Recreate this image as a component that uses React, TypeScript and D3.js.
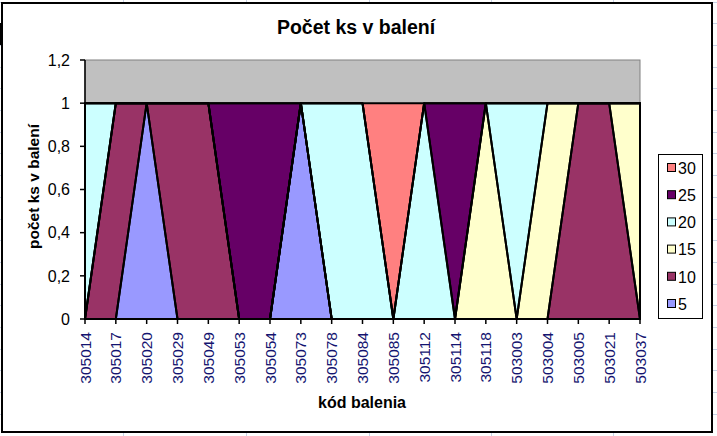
import React from 'react';
import * as d3 from 'd3';

// kód balenia (categories)
const codes = [
  '305014', '305017', '305020', '305029', '305049', '305053', '305054', '305073', '305078', '305084',
  '305085', '305112', '305114', '305118', '503003', '503004', '503005', '503021', '503037',
];

// one series per package size, 1 where the code uses that size
const s5 = [0, 0, 1, 0, 0, 0, 0, 1, 0, 0, 0, 0, 0, 0, 0, 0, 0, 0, 0];
const s10 = [0, 1, 0, 1, 1, 0, 0, 0, 0, 0, 0, 0, 0, 0, 0, 0, 1, 1, 0];
const s15 = [0, 0, 0, 0, 0, 0, 0, 0, 0, 0, 0, 0, 0, 1, 0, 1, 0, 0, 1];
const s20 = [1, 0, 0, 0, 0, 0, 0, 0, 1, 1, 0, 1, 0, 0, 1, 0, 0, 0, 0];
const s25 = [0, 0, 0, 0, 0, 1, 1, 0, 0, 0, 0, 0, 1, 0, 0, 0, 0, 0, 0];
const s30 = [0, 0, 0, 0, 0, 0, 0, 0, 0, 0, 1, 0, 0, 0, 0, 0, 0, 0, 0];

const seriesNames = ['5', '10', '15', '20', '25', '30'];
const seriesValues = [s5, s10, s15, s20, s25, s30];
const seriesColors = ['#9999FF', '#993366', '#FFFFCC', '#CCFFFF', '#660066', '#FF8080'];

const yTicks = [0, 0.2, 0.4, 0.6, 0.8, 1, 1.2];

const W = 717;
const H = 436;
const plot = { left: 85, right: 640, top: 60, bottom: 319 };
const font = '"Liberation Sans", Arial, sans-serif';

export default function App() {
  const x = d3.scalePoint<string>().domain(codes).range([plot.left, plot.right]);
  const y = d3.scaleLinear().domain([0, 1.2]).range([plot.bottom, plot.top]);

  const table = codes.map((c, i) => {
    const row: any = { code: c };
    seriesNames.forEach((s, k) => { row[s] = seriesValues[k][i]; });
    return row;
  });
  const stacked = d3.stack<any>().keys(seriesNames)(table);
  const area = d3.area<any>()
    .x(d => x(d.data.code)!)
    .y0(d => y(d[0]))
    .y1(d => y(d[1]));

  const fmt = (v: number) => String(v).replace('.', ',');

  // faint spreadsheet grid behind the chart object
  const sheetCols = [123, 246, 369, 491, 613];
  const sheetRows = d3.range(1.5, H, 21.7);

  const legendItems = seriesNames.map((n, k) => ({ n, c: seriesColors[k] })).reverse();

  return (
    <div style={{ position: 'fixed', left: 0, top: 0 }}>
      <svg width={W} height={H} style={{ display: 'block', fontFamily: font }}>
        <rect x={0} y={0} width={W} height={H} fill="#fff" />
        {sheetCols.map(c => (
          <line key={'c' + c} x1={c + 0.5} x2={c + 0.5} y1={0} y2={H} stroke="#c8d2e6" />
        ))}
        {sheetRows.map(r => (
          <line key={'r' + r} x1={0} x2={W} y1={Math.round(r) + 0.5} y2={Math.round(r) + 0.5} stroke="#c8d2e6" />
        ))}
        <rect x={0} y={23} width={3} height={22} fill="#000" />

        {/* chart area */}
        <rect x={2} y={3} width={710} height={429} fill="#fff" stroke="#000" strokeWidth={2} />

        <text x={356} y={34} textAnchor="middle" fontSize={19.5} fontWeight="bold">Počet ks v balení</text>

        {/* plot area */}
        <rect x={plot.left} y={plot.top} width={plot.right - plot.left} height={plot.bottom - plot.top}
          fill="#C0C0C0" stroke="#808080" strokeWidth={1} />

        {stacked.map((s, k) => (
          <path key={'f' + k} d={area(s)!} fill={seriesColors[k]} />
        ))}
        {stacked.map((s, k) => (
          <path key={'s' + k} d={area(s)!} fill="none" stroke="#000" strokeWidth={2} strokeLinejoin="round" />
        ))}

        {/* y axis */}
        <line x1={plot.left} x2={plot.left} y1={plot.top} y2={plot.bottom} stroke="#000" strokeWidth={1.5} />
        {yTicks.map(t => (
          <g key={t}>
            <line x1={plot.left - 5} x2={plot.left} y1={y(t)} y2={y(t)} stroke="#000" strokeWidth={1.5} />
            <text x={70} y={y(t)} dy="0.36em" textAnchor="end" fontSize={16}>{fmt(t)}</text>
          </g>
        ))}

        {/* x axis */}
        <line x1={plot.left} x2={plot.right} y1={plot.bottom} y2={plot.bottom} stroke="#000" strokeWidth={2} />
        {codes.map(c => (
          <g key={c}>
            <line x1={x(c)} x2={x(c)} y1={plot.bottom} y2={plot.bottom + 5} stroke="#000" strokeWidth={1.5} />
            <text transform={`translate(${x(c)},${plot.bottom + 13}) rotate(-90)`} dy="0.36em"
              textAnchor="end" fontSize={15.5} fill="#141470">{c}</text>
          </g>
        ))}

        <text x={362} y={408} textAnchor="middle" fontSize={16} fontWeight="bold">kód balenia</text>
        <text transform={`translate(39,${(plot.top + plot.bottom) / 2 - 3}) rotate(-90)`} textAnchor="middle"
          fontSize={15.5} fontWeight="bold">počet ks v balení</text>

        {/* legend */}
        <rect x={658.5} y={154.5} width={44} height={164} fill="#fff" stroke="#000" strokeWidth={1} />
        {legendItems.map((it, i) => (
          <g key={it.n} transform={`translate(0,${168 + i * 27.2})`}>
            <rect x={667.5} y={-4.5} width={8} height={8} fill={it.c} stroke="#000" strokeWidth={1} />
            <text x={678} y={0} dy="0.36em" fontSize={16}>{it.n}</text>
          </g>
        ))}
      </svg>
    </div>
  );
}
